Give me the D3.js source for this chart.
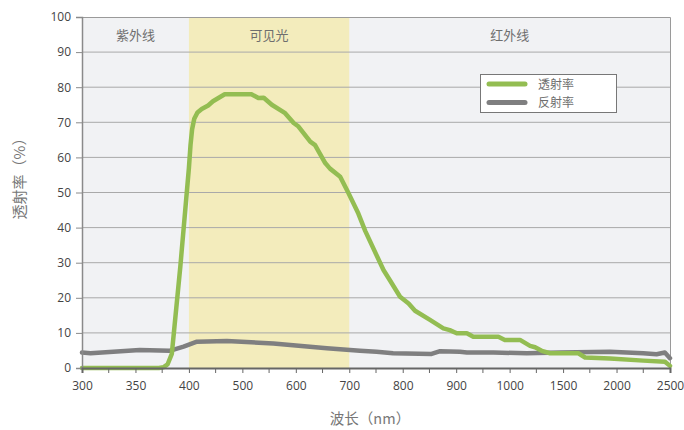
<!DOCTYPE html>
<html>
<head>
<meta charset="utf-8">
<script src="https://cdn.jsdelivr.net/npm/d3@7"></script>
<style>
  body { margin: 0; background: #fff; }
  text { font-family: "Open Sans", "Noto Sans", sans-serif; }
  .cjk { font-family: "Noto Sans CJK SC", sans-serif; }
</style>
</head>
<body>
<div id="chart"></div>
<script>
// wavelength (nm) / transmittance (%)
const transNm = [300, 330, 360, 372, 376, 380, 384, 392, 400, 403, 406, 410, 416, 424, 436, 445, 467, 517, 530, 540, 555, 580, 596, 605, 627, 636, 655, 664, 683, 698, 717, 730, 764, 776, 795, 811, 823, 851, 876, 888, 901, 920, 932, 979, 991, 1097, 1191, 1238, 1300, 1378, 1643, 1706, 1939, 2250, 2453, 2500];
const transVal = [0, 0, 0, 0, 0.2, 1, 4, 29, 57, 63.5, 68, 71, 72.8, 73.8, 74.8, 76, 78, 78, 76.9, 77, 75, 72.6, 69.8, 68.8, 64.5, 63.5, 58.4, 56.8, 54.5, 50, 44, 39, 27.9, 25, 20.3, 18.4, 16.3, 13.7, 11.3, 10.8, 9.9, 9.9, 8.9, 8.9, 8.0, 8.0, 6.3, 5.9, 4.9, 4.2, 4.2, 3.0, 2.7, 2.1, 1.8, 0.6];

// wavelength (nm) / reflectance (%)
const reflNm = [300, 308, 354, 382, 395, 415, 471, 558, 658, 720, 751, 782, 854, 870, 907, 920, 970, 1160, 1471, 1939, 2250, 2374, 2452, 2500];
const reflVal = [4.4, 4.2, 5.1, 4.9, 6.1, 7.5, 7.7, 7.0, 5.6, 4.9, 4.6, 4.2, 4.0, 4.8, 4.6, 4.4, 4.4, 4.2, 4.4, 4.6, 4.2, 3.9, 4.4, 2.8];

const xBreaks = [300, 400, 1000, 2500];
const xTickLabels = [300, 350, 400, 500, 600, 700, 800, 900, 1000, 1500, 2000, 2500];
const xMinorTicks = [325, 375, 450, 550, 650, 750, 850, 950, 1250, 1750, 2250];
const yTicks = [0, 10, 20, 30, 40, 50, 60, 70, 80, 90, 100];

const bands = [
  { name: "紫外线", from: 300, to: 400 },
  { name: "可见光", from: 400, to: 700 },
  { name: "红外线", from: 700, to: 2500 }
];
const seriesNames = ["透射率", "反射率"];
const colors = ["#93bd52", "#7f7f80"];

const W = 684, H = 430;
const mLeft = 82, mRight = 670, mTop = 17, mBottom = 368;
const pw = mRight - mLeft;

const svg = d3.select("#chart").append("svg")
  .attr("width", W).attr("height", H);

// piecewise x scale: 300-400 / 400-1000 / 1000-2500
const x = d3.scaleLinear()
  .domain(xBreaks)
  .range([mLeft, mLeft + pw * 2 / 11, mLeft + pw * 8 / 11, mRight]);
const y = d3.scaleLinear().domain([0, 100]).range([mBottom, mTop]);

// plot background
svg.append("rect")
  .attr("x", mLeft).attr("y", mTop)
  .attr("width", pw).attr("height", mBottom - mTop)
  .attr("fill", "#f1f2f4");

// visible band
svg.append("rect")
  .attr("x", x(400)).attr("y", mTop)
  .attr("width", x(700) - x(400)).attr("height", mBottom - mTop)
  .attr("fill", "#f3ecbc");

// gridlines
svg.append("g").selectAll("line")
  .data(yTicks.slice(1, -1))
  .enter().append("line")
  .attr("x1", mLeft).attr("x2", mRight)
  .attr("y1", d => y(d)).attr("y2", d => y(d))
  .attr("stroke", "#a9a9a9").attr("stroke-width", 1);

// border top/right
svg.append("path")
  .attr("d", `M${mLeft},${mTop + 0.5}H${mRight + 0.5}V${mBottom}`)
  .attr("fill", "none").attr("stroke", "#9a9a9a").attr("stroke-width", 1);

// band labels
svg.append("g").selectAll("text")
  .data(bands)
  .enter().append("text")
  .attr("class", "cjk")
  .attr("x", d => (x(d.from) + x(d.to)) / 2)
  .attr("y", 40)
  .attr("text-anchor", "middle")
  .attr("font-size", 13)
  .attr("fill", "#6e6e6e")
  .text(d => d.name);

// lines
const line = d3.line()
  .x(d => x(d[0])).y(d => y(d[1]));

const reflData = reflNm.map((d, i) => [d, reflVal[i]]);
const transData = transNm.map((d, i) => [d, transVal[i]]);

svg.append("path")
  .datum(reflData)
  .attr("d", line)
  .attr("fill", "none")
  .attr("stroke", colors[1]).attr("stroke-width", 4.5)
  .attr("stroke-linejoin", "round").attr("stroke-linecap", "round");

svg.append("path")
  .datum(transData)
  .attr("d", line)
  .attr("fill", "none")
  .attr("stroke", colors[0]).attr("stroke-width", 4.5)
  .attr("stroke-linejoin", "round").attr("stroke-linecap", "round");

// y axis
const yAxis = svg.append("g")
  .attr("transform", `translate(${mLeft},0)`)
  .call(d3.axisLeft(y).tickValues(yTicks).tickSize(6).tickPadding(5));
yAxis.select(".domain").attr("stroke", "#8a8a8a").attr("stroke-width", 1.5);
yAxis.selectAll(".tick line").attr("stroke", "#8a8a8a");
yAxis.selectAll(".tick text")
  .attr("font-size", 12).attr("fill", "#444")
  .style("font-family", "'Open Sans', sans-serif");

// x axis
const xAxis = svg.append("g")
  .attr("transform", `translate(0,${mBottom})`)
  .call(d3.axisBottom(x).tickValues(xTickLabels).tickFormat(d3.format("d"))
    .tickSize(5).tickPadding(8));
xAxis.select(".domain").attr("stroke", "#666").attr("stroke-width", 2);
xAxis.selectAll(".tick line").attr("stroke", "#666");
xAxis.selectAll(".tick text")
  .attr("font-size", 12).attr("fill", "#444")
  .style("font-family", "'Open Sans', sans-serif");

svg.append("g")
  .attr("transform", `translate(0,${mBottom})`)
  .selectAll("line")
  .data(xMinorTicks)
  .enter().append("line")
  .attr("x1", d => x(d)).attr("x2", d => x(d))
  .attr("y1", 0).attr("y2", 5)
  .attr("stroke", "#666");

// axis titles
svg.append("text")
  .attr("class", "cjk")
  .attr("transform", "translate(25,175) rotate(-90)")
  .attr("text-anchor", "middle")
  .attr("font-size", 15)
  .attr("fill", "#777")
  .text("透射率（%）");

svg.append("text")
  .attr("class", "cjk")
  .attr("x", 370).attr("y", 424)
  .attr("text-anchor", "middle")
  .attr("font-size", 14.5)
  .attr("fill", "#777")
  .text("波长（nm）");

// legend
const legend = svg.append("g").attr("transform", "translate(480,74)");
legend.append("rect")
  .attr("x", 0.5).attr("y", 0.5)
  .attr("width", 136).attr("height", 38)
  .attr("fill", "#fff").attr("stroke", "#777");
seriesNames.forEach(function(name, i) {
  const ly = 10 + i * 18.5;
  legend.append("line")
    .attr("x1", 9).attr("x2", 45)
    .attr("y1", ly).attr("y2", ly)
    .attr("stroke", colors[i]).attr("stroke-width", 5)
    .attr("stroke-linecap", "round");
  legend.append("text")
    .attr("class", "cjk")
    .attr("x", 58).attr("y", ly + 4.5)
    .attr("font-size", 12)
    .attr("fill", "#6e6e6e")
    .text(name);
});
</script>
</body>
</html>
